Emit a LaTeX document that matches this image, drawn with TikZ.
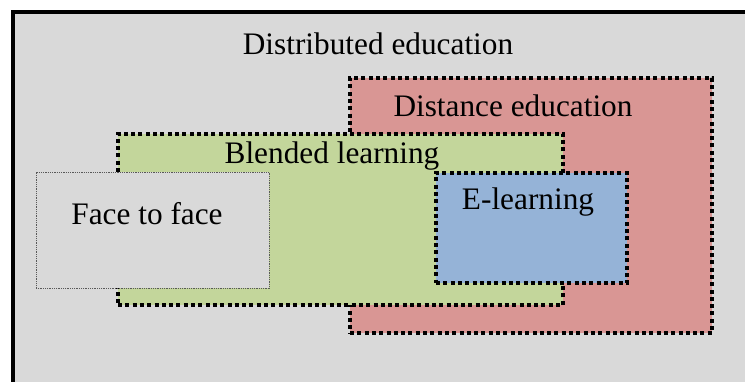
\documentclass[tikz,border=0pt]{standalone}
\usepackage{fontspec}
\setmainfont{Liberation Serif}
\definecolor{bggray}{HTML}{D9D9D9}
\definecolor{distred}{HTML}{D99694}
\definecolor{blendgreen}{HTML}{C3D69B}
\definecolor{elblue}{HTML}{95B3D7}
\definecolor{thinborder}{HTML}{595959}
\tikzset{
  area/.style={rectangle, inner sep=0pt, outer sep=0pt, anchor=north west,
    line width=4pt, dash pattern=on 4pt off 3.3pt},
  facebox/.style={rectangle, inner sep=0pt, outer sep=0pt, anchor=north west,
    draw=thinborder, line width=0.8pt, dash pattern=on 1pt off 0.8pt, fill=bggray},
  lbl/.style={inner sep=0pt, anchor=base, font=\fontsize{31.3}{37}\selectfont}
}
\begin{document}
\begin{tikzpicture}[x=1pt, y=-1pt]
\useasboundingbox (0,0) rectangle (745,382);
\clip (0,0) rectangle (745,382);
\fill[white] (0,0) rectangle (745,382);
\node[rectangle, inner sep=0pt, anchor=north west, fill=bggray, draw=black, line width=4pt,
  minimum width=780pt, minimum height=400pt] (outer) at (10.5,10.5) {};
\node[area, fill=distred, draw=black, minimum width=362pt, minimum height=255pt] (dist) at (350,78) {};
\node[area, fill=blendgreen, draw=black, minimum width=445pt, minimum height=171pt] (blend) at (118,134) {};
\node[area, fill=elblue, draw=black, minimum width=191pt, minimum height=110pt] (elearn) at (436,173) {};
\node[facebox, minimum width=233pt, minimum height=116pt] (face) at (36,172) {};
\node[lbl] (tdistrib) at (378,55) {Distributed education};
\node[lbl] (tdist) at (513,117) {Distance education};
\node[lbl] (tblend) at (332,164) {Blended learning};
\node[lbl] (telearn) at (528,210) {E-learning};
\node[lbl] (tface) at (147,225) {Face to face};
\end{tikzpicture}
\end{document}
